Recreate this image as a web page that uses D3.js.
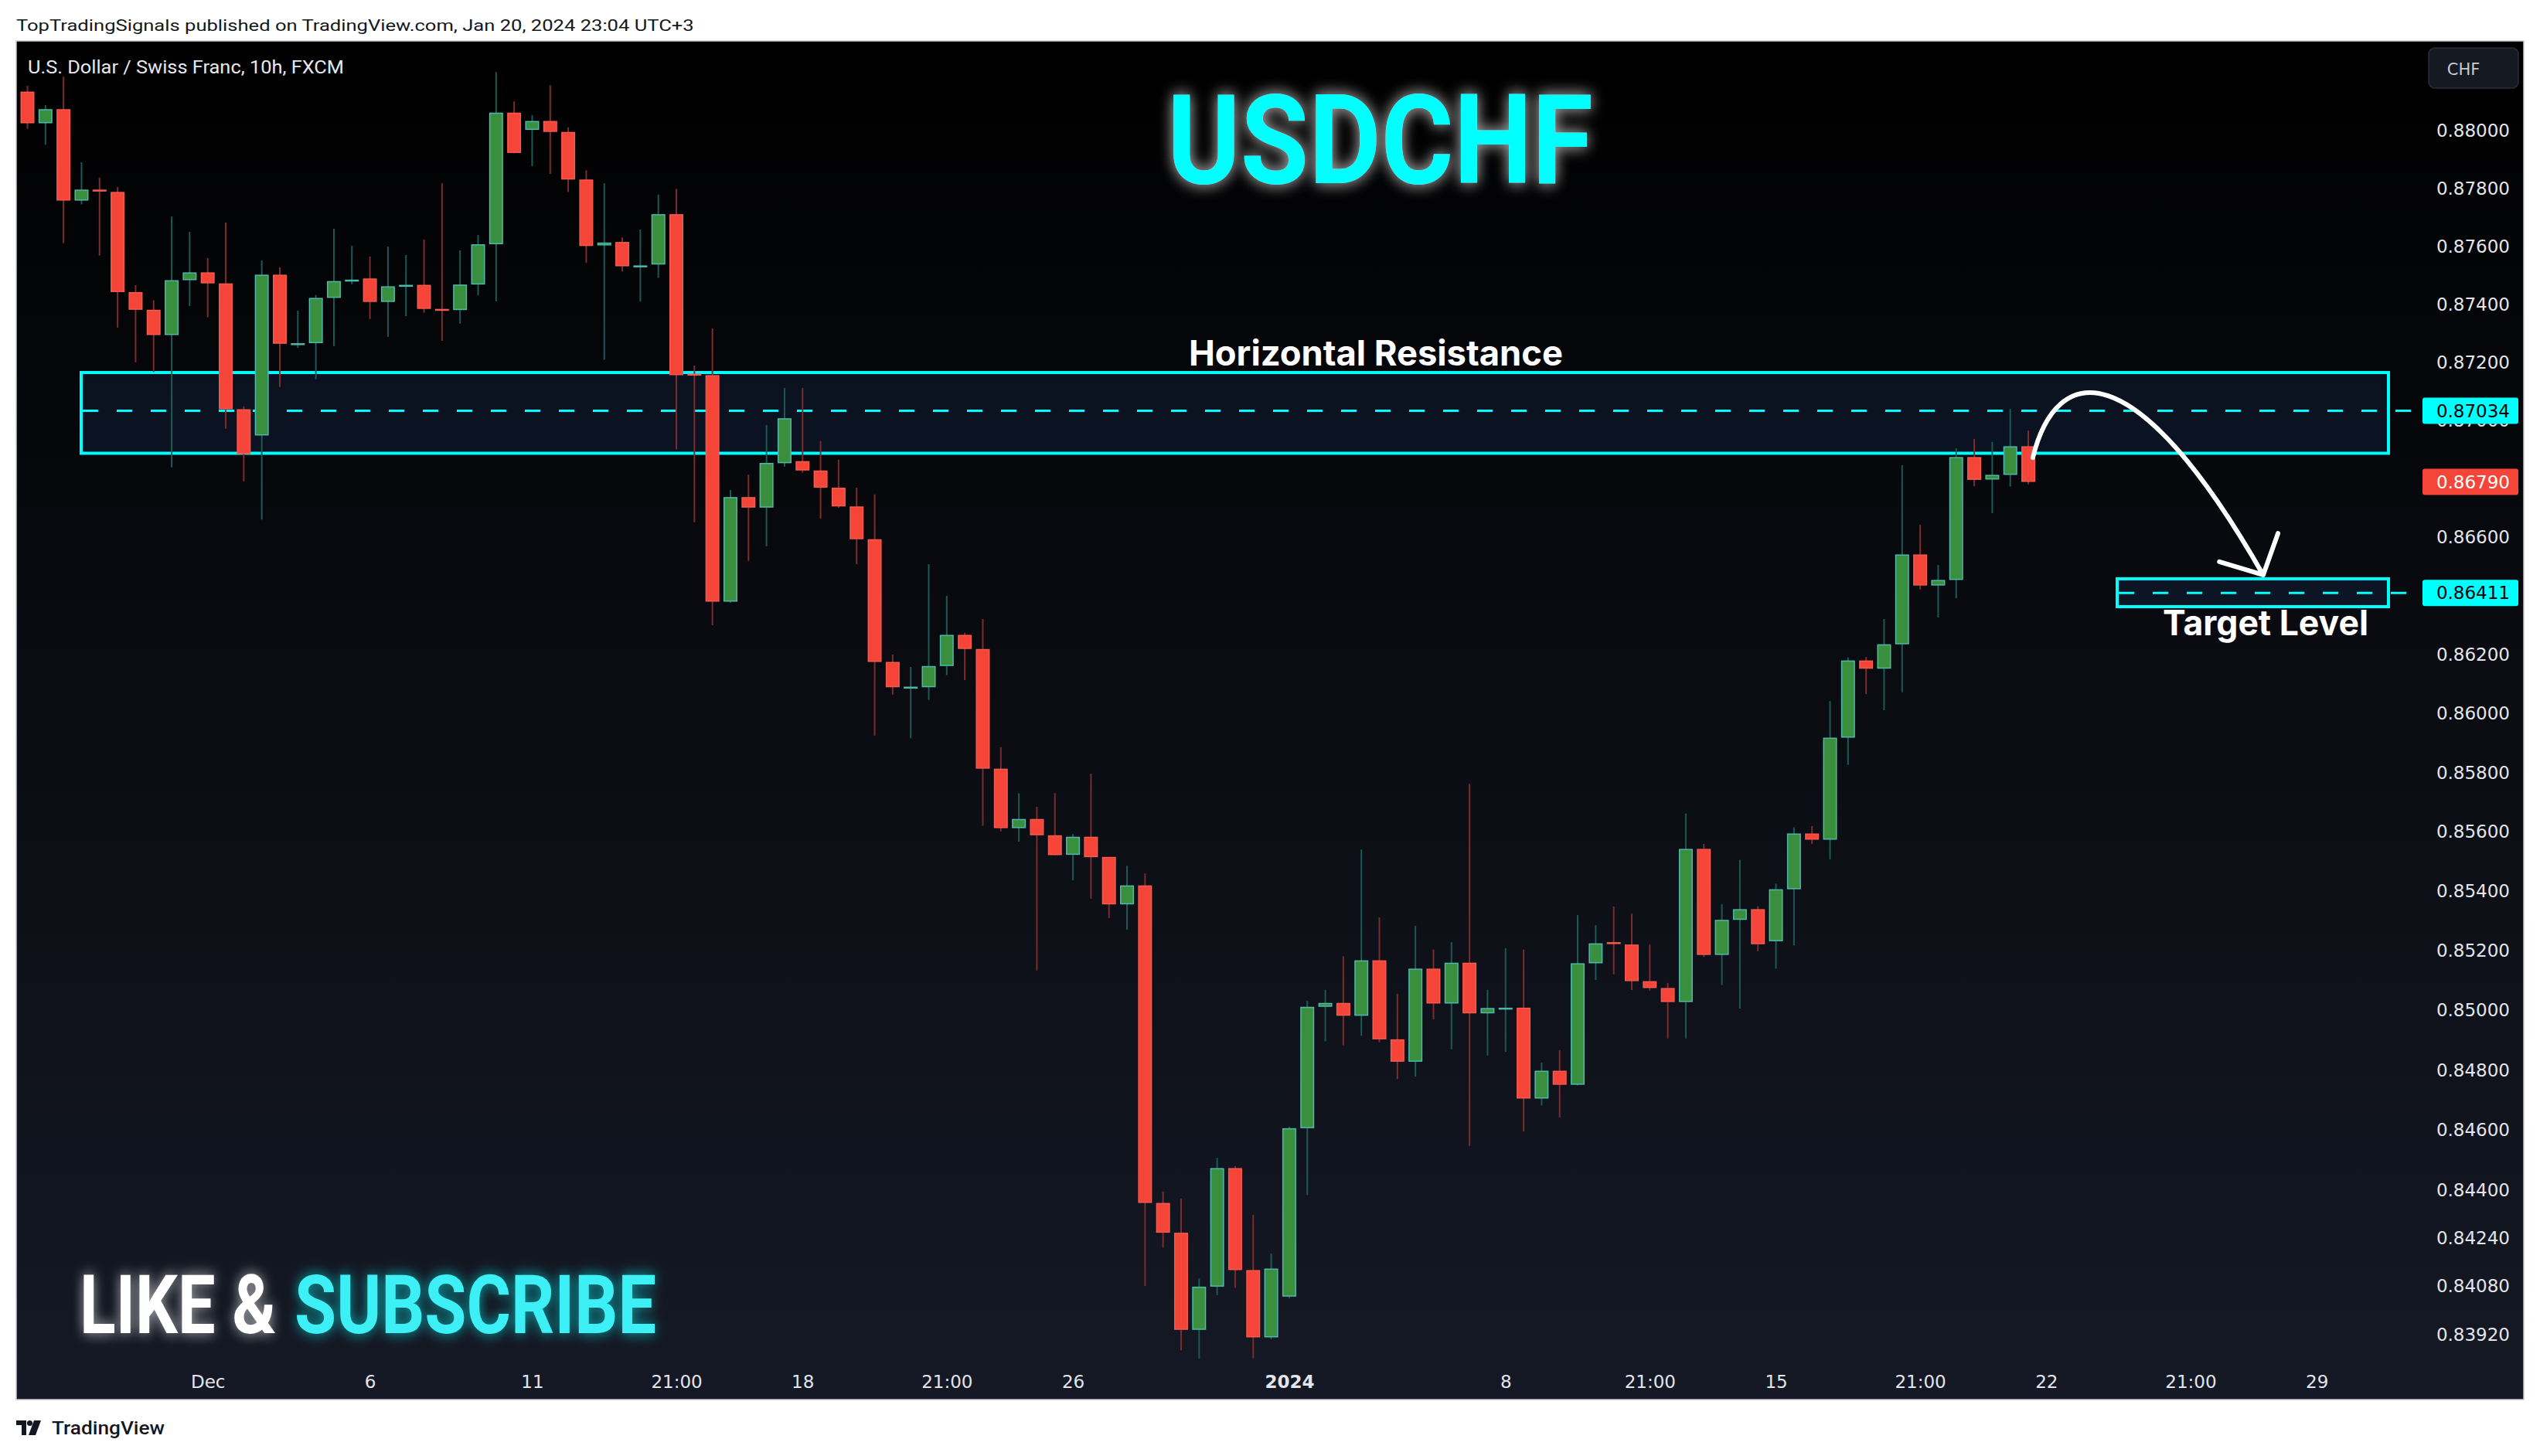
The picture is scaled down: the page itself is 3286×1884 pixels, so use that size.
<!DOCTYPE html>
<html><head><meta charset="utf-8">
<script src="https://cdn.jsdelivr.net/npm/d3@7"></script>
<style>
html,body{margin:0;padding:0;background:#fff;}
svg{display:block;}
</style></head><body>
<svg id="c" width="3286" height="1884"></svg>
<script>
// ---------------- DATA ----------------
const opens = [0.88136,0.88026,0.88075,0.87758,0.87796,0.87788,0.87442,0.87381,0.87294,0.87483,
0.87510,0.87472,0.87039,0.86949,0.87502,0.87264,0.87266,0.87422,0.87480,0.87489,
0.87408,0.87462,0.87467,0.87384,0.87380,0.87468,0.87607,0.88063,0.88003,0.88034,
0.87996,0.87831,0.87603,0.87615,0.87531,0.87537,0.87711,0.87161,0.87156,0.86381,
0.86738,0.86702,0.86854,0.86861,0.86829,0.86770,0.86706,0.86594,0.86176,0.86090,
0.86090,0.86162,0.86268,0.86220,0.85814,0.85613,0.85644,0.85589,0.85523,0.85584,
0.85516,0.85356,0.85420,0.84357,0.84258,0.83936,0.84079,0.84473,0.84134,0.83911,
0.84046,0.84606,0.85012,0.85025,0.84982,0.85168,0.84903,0.84828,0.85140,0.85023,
0.85160,0.84990,0.85008,0.85009,0.84705,0.84798,0.84751,0.85158,0.85229,0.85221,
0.85098,0.85075,0.85028,0.85543,0.85186,0.85304,0.85340,0.85232,0.85407,0.85595,
0.85574,0.85919,0.86181,0.86153,0.86236,0.86542,0.86436,0.86455,0.86875,0.86798,
0.86814,0.86912];
const highs = [0.88156,0.88089,0.88188,0.87891,0.87837,0.87805,0.87466,0.87414,0.87703,0.87650,
0.87559,0.87682,0.87049,0.87551,0.87527,0.87378,0.87432,0.87661,0.87602,0.87565,
0.87599,0.87570,0.87623,0.87818,0.87586,0.87639,0.88204,0.88102,0.88054,0.88158,
0.88012,0.87863,0.87818,0.87631,0.87658,0.87779,0.87799,0.87189,0.87317,0.86762,
0.86815,0.86985,0.87112,0.87112,0.86930,0.86866,0.86770,0.86747,0.86201,0.86159,
0.86509,0.86401,0.86275,0.86322,0.85887,0.85731,0.85685,0.85731,0.85593,0.85797,
0.85516,0.85486,0.85460,0.84395,0.84371,0.84106,0.84507,0.84480,0.84317,0.84189,
0.84611,0.85032,0.85069,0.85182,0.85541,0.85312,0.85056,0.85284,0.85204,0.85229,
0.85763,0.85069,0.85209,0.85204,0.84825,0.84867,0.85320,0.85286,0.85349,0.85325,
0.85221,0.85092,0.85662,0.85560,0.85357,0.85506,0.85350,0.85426,0.85616,0.85620,
0.86043,0.86191,0.86193,0.86322,0.86847,0.86643,0.86506,0.86905,0.86937,0.86927,
0.87040,0.86966];
const lows = [0.88007,0.87952,0.87611,0.87745,0.87568,0.87320,0.87200,0.87167,0.86840,0.87394,
0.87355,0.86972,0.86792,0.86661,0.87115,0.87250,0.87142,0.87256,0.87469,0.87349,
0.87288,0.87359,0.87371,0.87274,0.87333,0.87431,0.87410,0.87922,0.87877,0.87850,
0.87788,0.87543,0.87209,0.87513,0.87410,0.87491,0.86901,0.86652,0.86301,0.86377,
0.86520,0.86570,0.86842,0.86821,0.86664,0.86701,0.86509,0.85926,0.86065,0.85917,
0.86047,0.86131,0.86114,0.85621,0.85602,0.85567,0.85134,0.85521,0.85437,0.85375,
0.85310,0.85271,0.84081,0.84209,0.83868,0.83841,0.84051,0.84075,0.83842,0.83905,
0.84040,0.84383,0.84896,0.84883,0.84915,0.84893,0.84770,0.84778,0.84970,0.84870,
0.84547,0.84849,0.84861,0.84595,0.84682,0.84642,0.84749,0.85102,0.85121,0.85068,
0.85066,0.84906,0.84906,0.85179,0.85085,0.85006,0.85198,0.85140,0.85218,0.85560,
0.85508,0.85827,0.86067,0.86012,0.86073,0.86423,0.86327,0.86393,0.86775,0.86683,
0.86774,0.86782];
const closes = [0.88026,0.88075,0.87758,0.87796,0.87792,0.87442,0.87381,0.87294,0.87483,0.87510,
0.87472,0.87039,0.86885,0.87502,0.87264,0.87266,0.87422,0.87480,0.87485,0.87408,
0.87462,0.87467,0.87384,0.87383,0.87468,0.87607,0.88063,0.87923,0.88034,0.87996,
0.87831,0.87601,0.87613,0.87531,0.87534,0.87711,0.87156,0.87157,0.86381,0.86738,
0.86702,0.86855,0.87008,0.86829,0.86770,0.86706,0.86594,0.86176,0.86090,0.86092,
0.86162,0.86268,0.86220,0.85814,0.85613,0.85644,0.85589,0.85522,0.85584,0.85515,
0.85356,0.85420,0.84357,0.84258,0.83936,0.84079,0.84473,0.84134,0.83911,0.84139,
0.84606,0.85012,0.85025,0.84982,0.85168,0.84903,0.84828,0.85140,0.85023,0.85160,
0.84990,0.85008,0.85009,0.84705,0.84798,0.84751,0.85158,0.85225,0.85227,0.85098,
0.85075,0.85028,0.85543,0.85186,0.85304,0.85340,0.85222,0.85407,0.85595,0.85574,
0.85919,0.86181,0.86153,0.86236,0.86542,0.86436,0.86455,0.86875,0.86797,0.86814,
0.86912,0.86790];

const xTickIndex = [10,19,28,36,43,51,58,70,82,90,97,105,112,120,127];
const xTickText  = ["Dec","6","11","21:00","18","21:00","26","2024","8","21:00","15","21:00","22","21:00","29"];
const yTicks = [0.880,0.878,0.876,0.874,0.872,0.870,0.868,0.866,0.864,0.862,0.860,
                0.858,0.856,0.854,0.852,0.850,0.848,0.846,0.844,0.8424,0.8408,0.8392];

const resistanceZone = [0.86888, 0.87165];
const resistanceLevel = 0.87034;
const targetZone = [0.86364, 0.86459];
const targetLevel = 0.86411;
const lastPrice = 0.86790;
const resistanceSpan = [2.98, 130.98];   // bar index span
const targetSpan = [115.93, 130.98];

// ---------------- SCALES ----------------
const svg = d3.select("#c");
const frame = {x0: 21, y0: 53, x1: 3265, y1: 1811};
const plotRight = 3122;
const x = d3.scaleLinear().domain([0, 132]).range([35.5, 35.5 + 132 * 23.32]);
const y = d3.scaleLog().domain([0.88, 0.8392]).range([169.2, 1727]);

const defs = svg.append("defs");
const bg = defs.append("linearGradient").attr("id","bg").attr("x1",0).attr("y1",0).attr("x2",0).attr("y2",1);
bg.append("stop").attr("offset","0%").attr("stop-color","#000000");
bg.append("stop").attr("offset","100%").attr("stop-color","#151925");

function glow(id, color, sd, op){
  const f = defs.append("filter").attr("id", id).attr("x","-20%").attr("y","-60%").attr("width","140%").attr("height","220%");
  f.append("feGaussianBlur").attr("in","SourceAlpha").attr("stdDeviation", sd).attr("result","b");
  f.append("feFlood").attr("flood-color", color).attr("flood-opacity", op).attr("result","c");
  f.append("feComposite").attr("in","c").attr("in2","b").attr("operator","in").attr("result","g");
  const m = f.append("feMerge");
  m.append("feMergeNode").attr("in","g");
  m.append("feMergeNode").attr("in","g");
  m.append("feMergeNode").attr("in","SourceGraphic");
}
glow("glowW", "#ffffff", 10, 0.42);
glow("glowL", "#ffffff", 9, 0.35);
glow("glowC", "#00ffff", 9, 0.35);

// stretch/squeeze a text horizontally to a measured width (keeps its bbox honest)
function fitText(sel, x0, yb, width){
  const w = sel.node().getComputedTextLength();
  sel.attr("x", 0).attr("y", 0)
     .attr("transform", `translate(${x0},${yb}) scale(${width / w},1)`);
  return sel;
}

// page header
fitText(svg.append("text")
  .attr("font-family","Roboto, 'Liberation Sans', sans-serif").attr("font-size", 20)
  .attr("fill","#131722")
  .text("TopTradingSignals published on TradingView.com, Jan 20, 2024 23:04 UTC+3"), 21, 40, 877);

// chart frame
svg.append("rect").attr("x", frame.x0).attr("y", frame.y0)
  .attr("width", frame.x1 - frame.x0).attr("height", frame.y1 - frame.y0)
  .attr("fill","url(#bg)").attr("stroke","#c9ccd3").attr("stroke-width",1.5);

// chart title
fitText(svg.append("text")
  .attr("font-family","Roboto, 'Liberation Sans', sans-serif").attr("font-size", 24)
  .attr("fill","#e6e8ee")
  .text("U.S. Dollar / Swiss Franc, 10h, FXCM"), 36, 95, 409);

// ---------------- ZONES ----------------
const zones = svg.append("g");
function zone(span, rng, level){
  zones.append("rect")
    .attr("x", x(span[0])).attr("y", y(rng[1]))
    .attr("width", x(span[1]) - x(span[0])).attr("height", y(rng[0]) - y(rng[1]))
    .attr("fill","rgba(40,80,150,0.16)").attr("stroke","#00ffff").attr("stroke-width",4);
  zones.append("line")
    .attr("x1", x(span[0]) + 2).attr("x2", plotRight)
    .attr("y1", y(level)).attr("y2", y(level))
    .attr("stroke","#00ffff").attr("stroke-width",3).attr("stroke-dasharray","20,24");
}
zone(resistanceSpan, resistanceZone, resistanceLevel);
zone(targetSpan, targetZone, targetLevel);

// ---------------- CANDLES ----------------
const idx = d3.range(opens.length);
const up = i => closes[i] >= opens[i];
const cg = svg.append("g");
cg.selectAll("line.w").data(idx).join("line").attr("class","w")
  .attr("x1", i => x(i)).attr("x2", i => x(i))
  .attr("y1", i => y(highs[i])).attr("y2", i => y(lows[i]))
  .attr("stroke", i => up(i) ? "#1b5a54" : "#7d2b2b").attr("stroke-width", 2);
const bw = 18;
cg.selectAll("rect.b").data(idx).join("rect").attr("class","b")
  .attr("x", i => x(i) - bw/2 + 0.75)
  .attr("y", i => Math.min(y(opens[i]), y(closes[i])) + 0.75)
  .attr("width", bw - 1.5)
  .attr("height", i => Math.max(Math.abs(y(opens[i]) - y(closes[i])) - 1.5, 1))
  .attr("fill", i => up(i) ? "#3a8f3e" : "#f44538")
  .attr("stroke", i => up(i) ? "#4fb8ad" : "#f55a4f").attr("stroke-width", 1.5);

// ---------------- AXES ----------------
const yAxis = d3.axisLeft(y).tickValues(yTicks).tickFormat(d3.format(".5f")).tickSize(0).tickPadding(0);
const ya = svg.append("g").attr("transform","translate(3247,0)").call(yAxis);
ya.select(".domain").remove();
ya.selectAll("text").attr("font-family","'DejaVu Sans', sans-serif").attr("font-size",23).attr("fill","#e3e5ea");

const xAxis = d3.axisBottom(x).tickValues(xTickIndex).tickFormat((d,i) => xTickText[i]).tickSize(0).tickPadding(0);
const xa = svg.append("g").attr("transform","translate(0,1780)").call(xAxis);
xa.select(".domain").remove();
xa.selectAll("text").attr("font-family","'DejaVu Sans', sans-serif").attr("font-size",23).attr("fill","#e3e5ea")
  .attr("font-weight", (d,i) => xTickText[i] === "2024" ? "bold" : "normal");

// currency box
svg.append("rect").attr("x",3142).attr("y",62).attr("width",116).attr("height",52).attr("rx",8)
  .attr("fill","#151922").attr("stroke","#2a2e39").attr("stroke-width",1.5);
svg.append("text").attr("x",3187).attr("y",97).attr("text-anchor","middle")
  .attr("font-family","'DejaVu Sans', sans-serif").attr("font-size",21).attr("fill","#c8cad1").text("CHF");

// price tags
function tag(price, bgc, fg){
  const g = svg.append("g");
  g.append("line").attr("x1", 3092).attr("x2", plotRight).attr("y1", y(price)).attr("y2", y(price));
  g.append("rect").attr("x",3134).attr("y", y(price) - 17).attr("width",124).attr("height",34).attr("rx",3).attr("fill",bgc);
  g.append("text").attr("x",3247).attr("y", y(price)).attr("dy","0.36em").attr("text-anchor","end")
    .attr("font-family","'DejaVu Sans', sans-serif").attr("font-size",23).attr("fill",fg)
    .text(d3.format(".5f")(price));
}
tag(resistanceLevel, "#00ffff", "#000000");
tag(lastPrice, "#f44538", "#ffffff");
tag(targetLevel, "#00ffff", "#000000");

// ---------------- ANNOTATIONS ----------------
fitText(svg.append("text")
  .attr("font-family","Inter, Roboto, sans-serif").attr("font-weight",700).attr("font-size",45)
  .attr("fill","#ffffff").text("Horizontal Resistance"), 1538, 473, 484);
fitText(svg.append("text")
  .attr("font-family","Inter, Roboto, sans-serif").attr("font-weight",700).attr("font-size",45)
  .attr("fill","#ffffff").text("Target Level"), 2798, 822, 266);

fitText(svg.append("text")
  .attr("font-family","Roboto, 'Liberation Sans', sans-serif").attr("font-weight",700).attr("font-size",162)
  .attr("fill","#00ffff").attr("filter","url(#glowW)").text("USDCHF"), 1510, 237, 551);

fitText(svg.append("text")
  .attr("font-family","Roboto, 'Liberation Sans', sans-serif").attr("font-weight",700).attr("font-size",106)
  .attr("fill","#ffffff").attr("filter","url(#glowL)").text("LIKE &"), 103, 1725, 254);
fitText(svg.append("text")
  .attr("font-family","Roboto, 'Liberation Sans', sans-serif").attr("font-weight",700).attr("font-size",106)
  .attr("fill","#3ef0f5").attr("filter","url(#glowC)").text("SUBSCRIBE"), 381, 1725, 468);

// arrow (defined in bar-index / price space)
const arrowPts = [[111.25,0.86873],[112.54,0.87197],[116.83,0.87250],[124.03,0.86472]];
const arrowArms = [[121.6,0.86517],[124.85,0.86614]];
const p = d3.path();
p.moveTo(x(arrowPts[0][0]), y(arrowPts[0][1]));
p.bezierCurveTo(x(arrowPts[1][0]), y(arrowPts[1][1]), x(arrowPts[2][0]), y(arrowPts[2][1]), x(arrowPts[3][0]), y(arrowPts[3][1]));
p.moveTo(x(arrowArms[0][0]), y(arrowArms[0][1]));
p.lineTo(x(arrowPts[3][0]), y(arrowPts[3][1]));
p.lineTo(x(arrowArms[1][0]), y(arrowArms[1][1]));
svg.append("path").attr("d", p.toString()).attr("fill","none").attr("stroke","#ffffff")
  .attr("stroke-width",6).attr("stroke-linecap","round").attr("stroke-linejoin","round");

// ---------------- FOOTER LOGO ----------------
const lg = svg.append("g").attr("fill","#131722");
lg.append("path").attr("d","M21,1838 H34 V1857 H28 V1844 H21 Z");
lg.append("circle").attr("cx",38.5).attr("cy",1841.5).attr("r",3.6);
lg.append("path").attr("d","M44,1838 H53 L46,1857 H37 Z");
fitText(svg.append("text")
  .attr("font-family","Roboto, 'Liberation Sans', sans-serif").attr("font-size",24).attr("font-weight",500)
  .attr("fill","#131722").text("TradingView"), 67, 1856, 146);
</script>
</body></html>
